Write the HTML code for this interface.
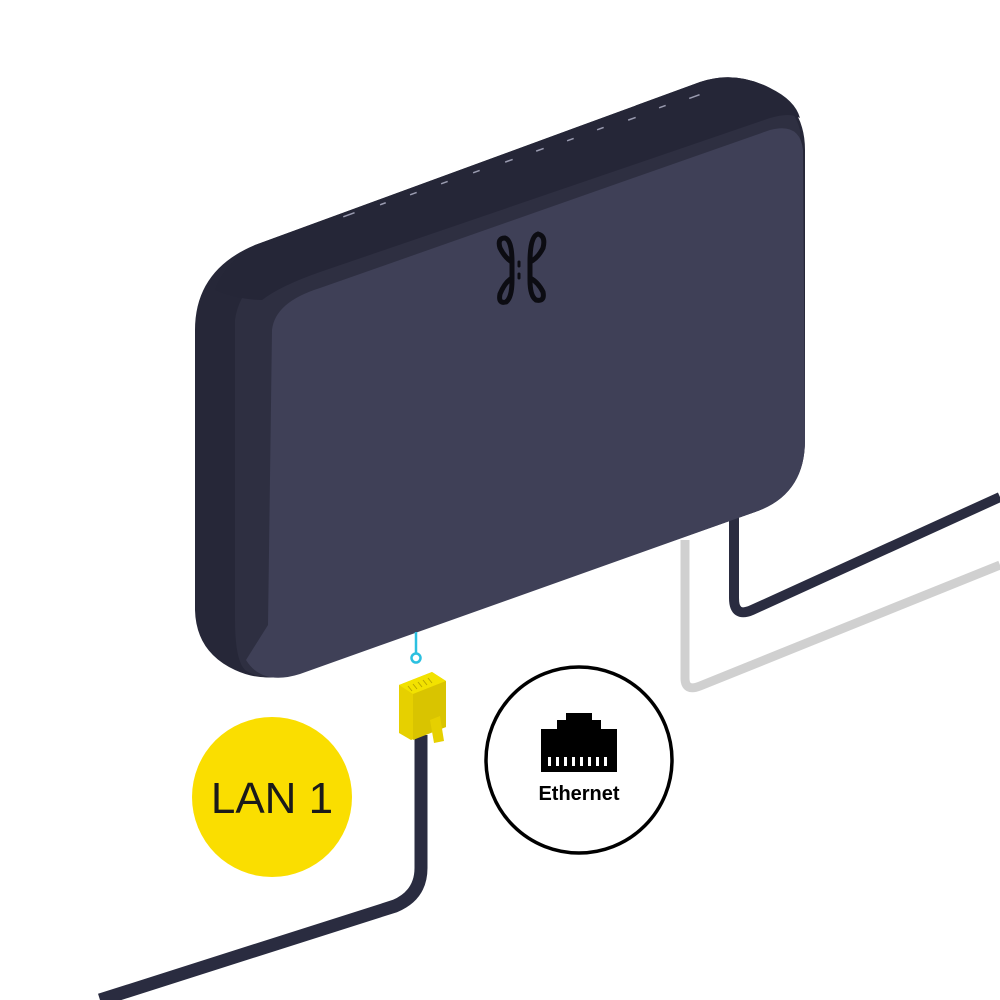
<!DOCTYPE html>
<html><head><meta charset="utf-8"><style>
html,body{margin:0;padding:0;background:#fff;width:1000px;height:1000px;overflow:hidden}
svg{display:block}
</style></head><body>
<svg width="1000" height="1000" viewBox="0 0 1000 1000" xmlns="http://www.w3.org/2000/svg">
<!-- gray cable -->
<path d="M685 540 L685 678 Q685 692 700 686 L1000 565" fill="none" stroke="#d0d0d0" stroke-width="9" stroke-linejoin="round"/>
<!-- dark cable right -->
<path d="M734 500 L734 598 Q734 618 752 610 L1000 497" fill="none" stroke="#2a2c40" stroke-width="10" stroke-linejoin="round"/>
<!-- device outer body -->
<path d="M195 330 Q195 270 255 245 L700 82 Q735 70 770 88 Q805 108 805 150 L805 440 Q805 495 755 512 L300 672 Q265 684 235 670 Q196 652 195 610 Z" fill="#262738"/>
<!-- side band -->
<path d="M235 320 Q240 280 290 262 L740 100 Q790 90 800 130 L803 440 Q803 495 755 512 L300 672 Q265 684 245 670 Q235 660 235 620 Z" fill="#2e2f41"/>
<!-- front face -->
<path d="M272 330 Q275 302 320 288 L770 130 Q800 122 803 150 L805 440 Q805 495 755 512 L300 674 Q262 686 246 660 L268 625 Z" fill="#3f4057"/>
<!-- top edge slightly darker band -->
<path d="M255 245 L700 82 Q735 70 770 88 Q795 100 800 118 Q790 112 770 118 L320 272 Q280 286 262 300 Q240 300 215 290 Q225 262 255 245 Z" fill="#252637"/>
<!-- port labels on top -->
<g fill="#9a9bb0">
<rect x="343" y="214" width="12" height="1.5" transform="rotate(-20 349 215)"/>
<rect x="380" y="203" width="6" height="1.5" transform="rotate(-20 383 204)"/>
<rect x="410" y="193" width="7" height="1.5" transform="rotate(-20 413 194)"/>
<rect x="441" y="182" width="7" height="1.5" transform="rotate(-20 444 183)"/>
<rect x="473" y="171" width="7" height="1.5" transform="rotate(-20 476 172)"/>
<rect x="505" y="160" width="8" height="1.5" transform="rotate(-20 509 161)"/>
<rect x="536" y="149" width="8" height="1.5" transform="rotate(-20 540 150)"/>
<rect x="567" y="139" width="7" height="1.5" transform="rotate(-20 570 140)"/>
<rect x="597" y="128" width="7" height="1.5" transform="rotate(-20 600 129)"/>
<rect x="628" y="118" width="8" height="1.5" transform="rotate(-20 632 119)"/>
<rect x="659" y="106" width="7" height="1.5" transform="rotate(-20 662 107)"/>
<rect x="689" y="96" width="11" height="1.5" transform="rotate(-20 694 97)"/>
</g>
<!-- logo -->
<g fill="none" stroke="#0c0c12" stroke-width="5" stroke-linecap="round">
<path d="M512 262 Q512 240 505 238 Q497 238 500 248 Q505 258 512 262 L512 278 Q505 282 500 294 Q498 304 506 302 Q512 298 512 280"/>
<path d="M530 262 Q530 236 538 234 Q546 236 543 248 Q538 258 530 262 L530 278 Q538 282 543 292 Q545 302 536 300 Q530 296 530 280"/>
<path d="M519 262 L519 266 M519 274 L519 278" stroke-width="3"/>
</g>
<!-- cyan connector -->
<line x1="416" y1="632" x2="416" y2="654" stroke="#2bc0e0" stroke-width="2.5"/>
<circle cx="416" cy="658" r="4.5" fill="#fff" stroke="#2bc0e0" stroke-width="2.5"/>
<!-- dark cable down-left -->
<path d="M421 735 L421 868 Q421 895 395 906 L100 1000" fill="none" stroke="#2a2c40" stroke-width="13" stroke-linejoin="round"/>
<!-- yellow plug -->
<path d="M399 685 L432 672 L446 681 L446 727 L411 740 L399 733 Z" fill="#e6d000"/>
<path d="M399 685 L432 672 L446 681 L413 694 Z" fill="#f2e200"/>
<path d="M413 694 L446 681 L446 727 L413 740 Z" fill="#d9c400"/>
<path d="M430 720 L440 716 L444 741 L434 743 Z" fill="#e6d000"/>
<g stroke="#b8a600" stroke-width="1"><line x1="408" y1="686" x2="412" y2="691"/><line x1="413" y1="684" x2="417" y2="689"/><line x1="418" y1="682" x2="422" y2="687"/><line x1="423" y1="680" x2="427" y2="685"/><line x1="428" y1="678" x2="432" y2="683"/></g>
<!-- LAN 1 circle -->
<circle cx="272" cy="797" r="80" fill="#fade00"/>
<text x="272" y="813" text-anchor="middle" font-family="Liberation Sans, sans-serif" font-size="44" fill="#1a1a1a">LAN 1</text>
<!-- Ethernet circle -->
<circle cx="579" cy="760" r="93" fill="#fff" stroke="#000" stroke-width="3.5"/>
<path d="M566 713 L592 713 L592 720 L601 720 L601 729 L617 729 L617 772 L541 772 L541 729 L557 729 L557 720 L566 720 Z" fill="#000"/>
<g fill="#fff"><rect x="548" y="757" width="3" height="9"/><rect x="556" y="757" width="3" height="9"/><rect x="564" y="757" width="3" height="9"/><rect x="572" y="757" width="3" height="9"/><rect x="580" y="757" width="3" height="9"/><rect x="588" y="757" width="3" height="9"/><rect x="596" y="757" width="3" height="9"/><rect x="604" y="757" width="3" height="9"/></g>
<text x="579" y="800" text-anchor="middle" font-family="Liberation Sans, sans-serif" font-weight="bold" font-size="20" fill="#000">Ethernet</text>
</svg>
</body></html>
